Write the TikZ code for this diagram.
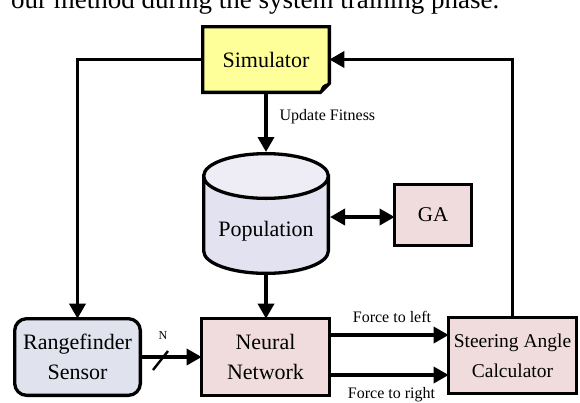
\documentclass[tikz,border=0pt]{standalone}
\usepackage{fontspec}
\setmainfont{Liberation Serif}
\usetikzlibrary{arrows.meta,backgrounds}
\definecolor{simfill}{HTML}{FFFF99}
\definecolor{pinkfill}{HTML}{F0DCDC}
\definecolor{bluefill}{HTML}{E0E2EE}
\definecolor{cylbody}{HTML}{E2E2F0}
\definecolor{cyltop}{HTML}{EEECF4}
\begin{document}
\begin{tikzpicture}[x=1pt,y=-1pt,line width=3.3pt,
  box/.style={draw,line width=3.3pt,inner sep=0pt,outer sep=0pt,align=center},
  bigtext/.style={font=\fontsize{22}{30}\selectfont},
  midtext/.style={font=\fontsize{19.5}{30}\selectfont},
  conn/.style={line width=3.5pt,-{Triangle[length=15pt,width=16pt]}},
  lbl/.style={font=\fontsize{16}{18}\selectfont,inner sep=0pt}]
\useasboundingbox (0,0) rectangle (580,402);

% caption line (cut off at top)
\node[anchor=base east,font=\fontsize{27}{30}\selectfont,inner sep=0pt] (cap) at (501,8.3) {our method during the system training phase.};

% Simulator
\node[inner sep=0pt,outer sep=0pt,minimum width=126.7pt,minimum height=65.7pt,bigtext] (sim) at (266,59.5) {Simulator};
\begin{scope}[on background layer]
\filldraw[fill=simfill,line width=3.3pt,line join=miter] (sim.north west) -- (sim.north east) -- ([yshift=9pt]sim.south east) -- ([xshift=-9pt]sim.south east) -- (sim.south west) -- cycle;
\fill ([xshift=-9pt]sim.south east) -- ([yshift=9pt]sim.south east) .. controls ([xshift=-6pt,yshift=9pt]sim.south east) and ([xshift=-9pt,yshift=6pt]sim.south east) .. cycle;
\end{scope}

% Population cylinder
\filldraw[fill=cylbody] (203.65,176) -- (203.65,251) arc (180:0:62.35 and 22.35) -- (328.35,176) -- cycle;
\filldraw[fill=cyltop] (266,176) ellipse (62.35 and 22.35);
\node[bigtext,inner sep=0pt] (pop) at (266,231) {Population};
\coordinate (poptop) at (266,152);
\coordinate (popbot) at (266,275);
\coordinate (poprt) at (330,217);

% GA
\node[box,fill=pinkfill,minimum width=76.7pt,minimum height=60.7pt,font=\fontsize{21}{24}\selectfont] (ga) at (433,215) {GA};

% Bottom row
\node[box,fill=bluefill,rounded corners=12pt,minimum width=125.7pt,minimum height=76.7pt,bigtext] (rf) at (77.5,357) {Rangefinder\\Sensor};
\node[box,fill=pinkfill,minimum width=127.7pt,minimum height=76.7pt,bigtext] (nn) at (265.5,357) {Neural\\Network};
\node[box,fill=pinkfill,minimum width=127.7pt,minimum height=75.7pt,midtext] (st) at (512.5,355.5) {Steering Angle\\Calculator};

% connectors
\draw[conn] (sim.south) -- (poptop);
\node[lbl,anchor=base west] (uf) at (278,120) {Update Fitness};
\draw[conn] (popbot) -- (popbot |- nn.north);
\draw[line width=3.5pt,{Triangle[length=15pt,width=16pt]}-{Triangle[length=15pt,width=16pt]}] (poprt) -- (poprt -| ga.west);
\draw[conn] (sim.west) -| (rf.north);
\draw[conn] (st.north) |- (sim.east);
\draw[conn] (rf.east) -- (nn.west);
\coordinate (s1) at (153,370);
\coordinate (s2) at (168,351);
\draw[line width=2.4pt] (s1) -- (s2);
\node[inner sep=0pt,font=\fontsize{12}{14}\selectfont] (nlab) at (163,336) {N};
\draw[conn] ([yshift=22pt]nn.east) -- ([yshift=22pt]nn.east -| st.west);
\draw[conn] ([yshift=-18pt]nn.east) -- ([yshift=-18pt]nn.east -| st.west);
\node[lbl,anchor=base] (fl) at (392,322) {Force to left};
\node[lbl,anchor=base] (fr) at (391.5,398) {Force to right};
\end{tikzpicture}
\end{document}
